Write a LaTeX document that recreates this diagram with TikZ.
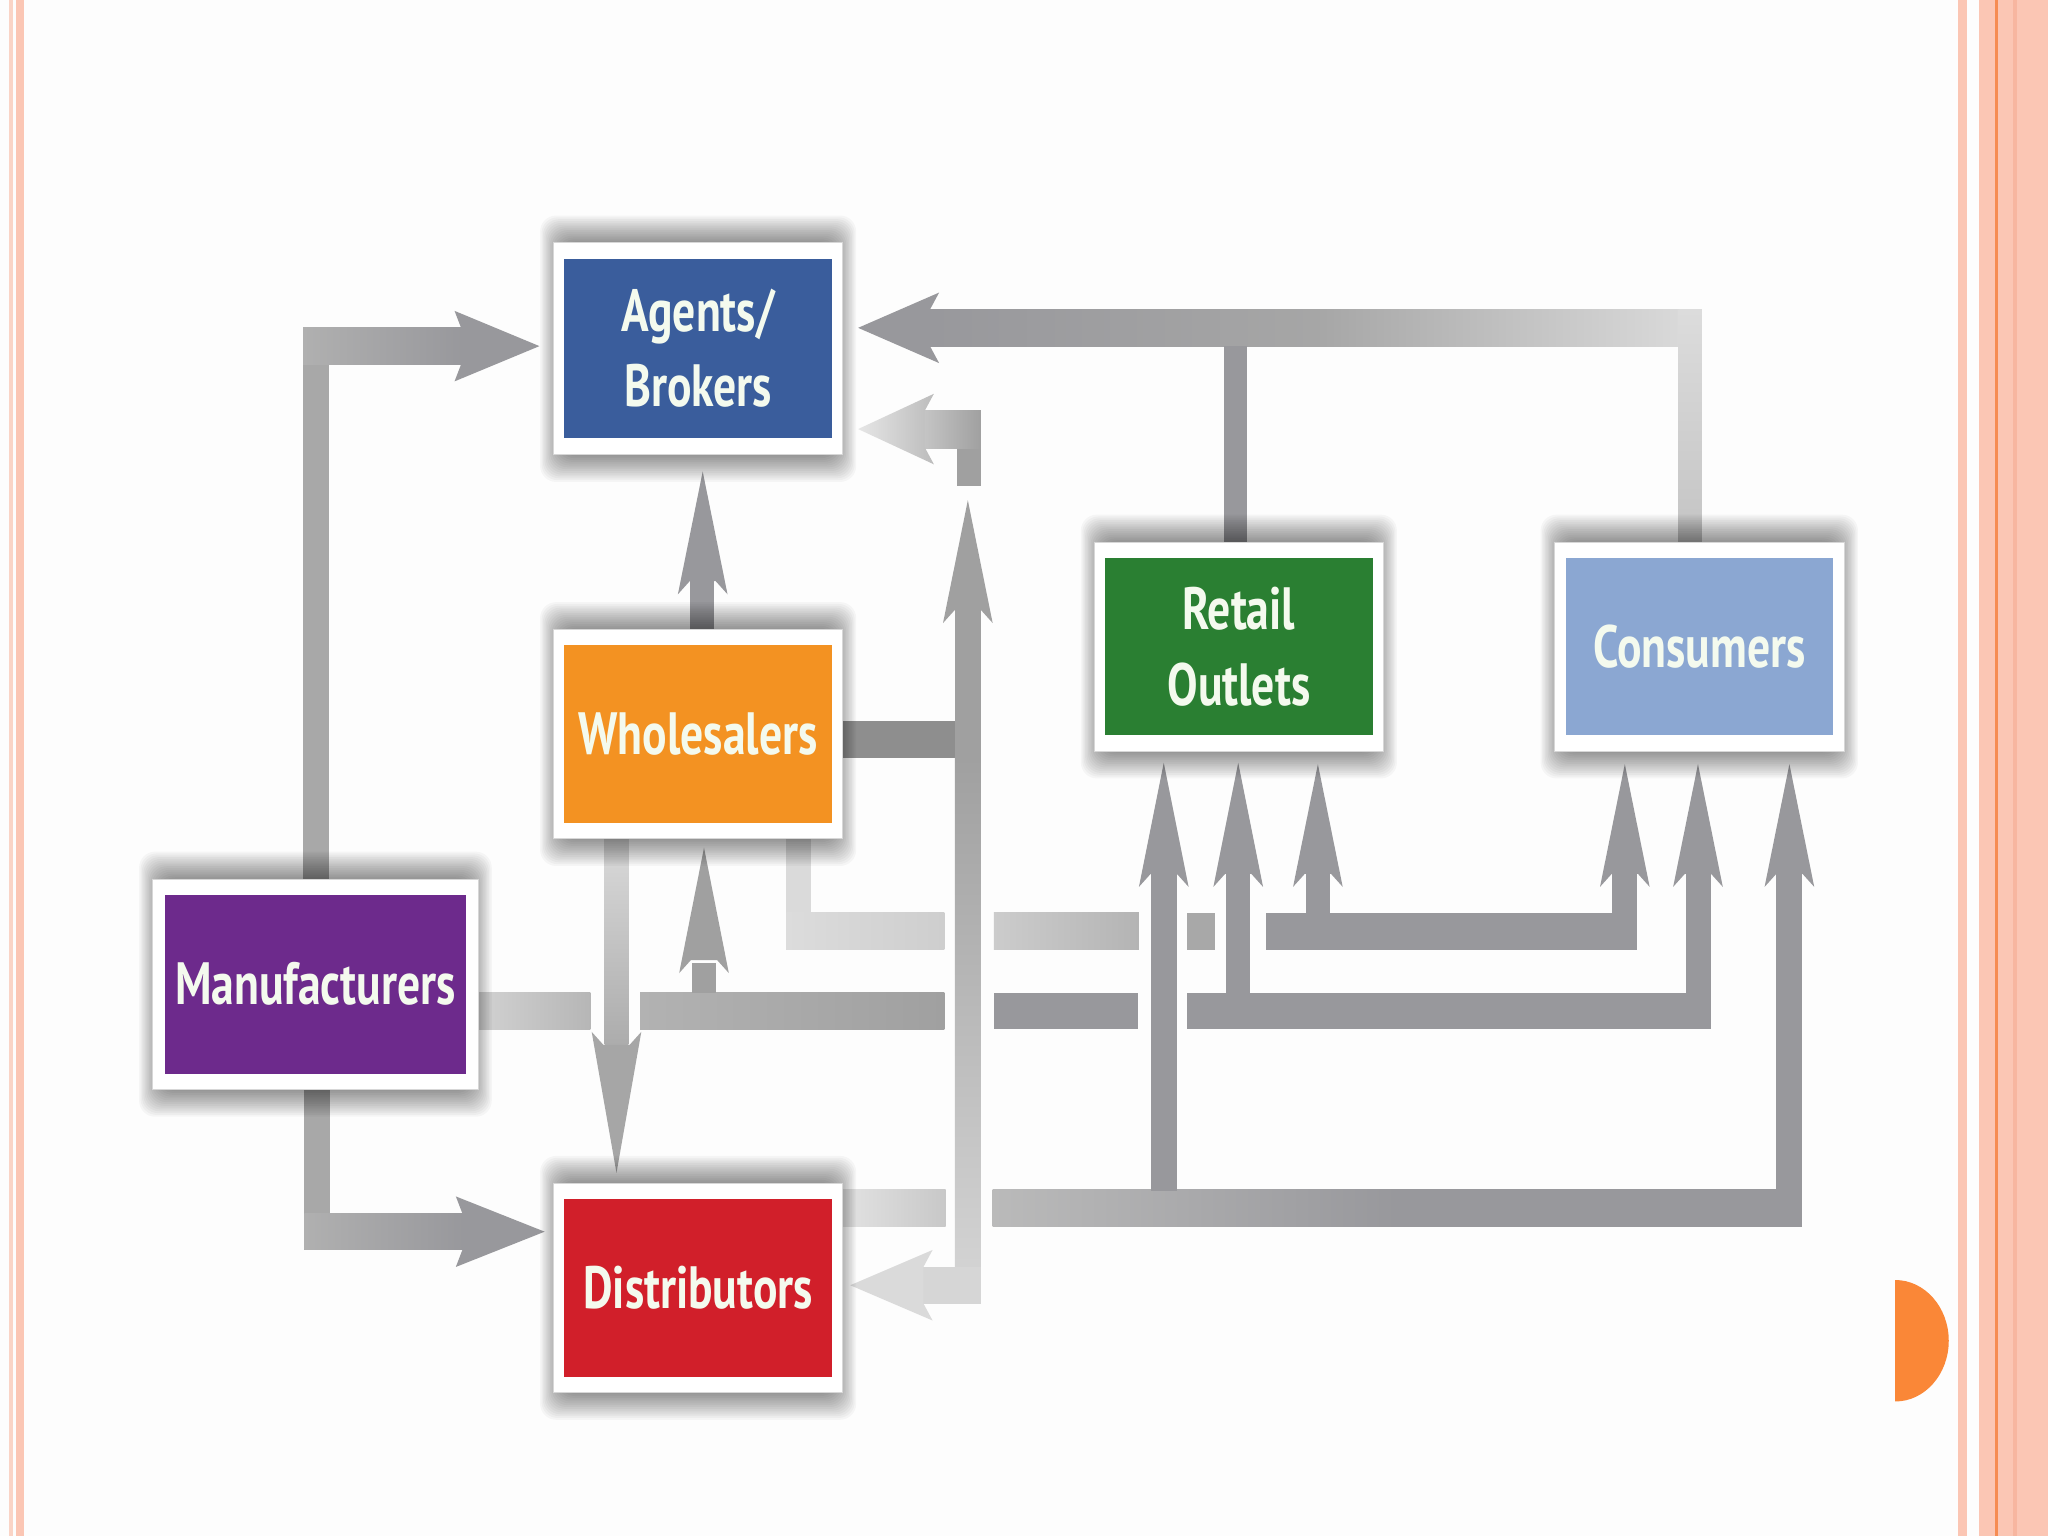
\documentclass[tikz,border=0pt]{standalone}
\usepackage{fontspec}
\newfontfamily\boxfont[FakeStretch=0.765]{PT Sans}
\definecolor{bgc}{RGB}{253,253,253}
\definecolor{gd}{RGB}{152,152,156}
\newcommand\defgray[1]{\definecolor{g#1}{RGB}{#1,#1,#1}}
\defgray{142}\defgray{160}\defgray{166}\defgray{168}\defgray{172}\defgray{176}
\defgray{178}\defgray{180}\defgray{182}\defgray{186}\defgray{188}\defgray{196}
\defgray{200}\defgray{204}\defgray{206}\defgray{210}\defgray{214}\defgray{218}
\defgray{220}\defgray{226}\defgray{230}
\definecolor{agentblue}{RGB}{58,93,156}
\definecolor{wholeorange}{RGB}{243,146,34}
\definecolor{manpurple}{RGB}{109,42,140}
\definecolor{distred}{RGB}{209,31,42}
\definecolor{retailgreen}{RGB}{42,127,50}
\definecolor{consblue}{RGB}{139,167,210}
\definecolor{salmon}{RGB}{251,198,180}
\definecolor{salmonl}{RGB}{250,212,198}
\definecolor{salmond}{RGB}{247,182,160}
\definecolor{orangeline}{RGB}{246,140,82}
\definecolor{dotorange}{RGB}{250,135,55}
\definecolor{framegray}{RGB}{215,215,215}
\definecolor{txt}{RGB}{244,250,238}
\def\pxu{0.02cm}
\tikzset{
  frame/.style={draw=framegray, line width=0.4pt, fill=white, inner sep=0pt, outer sep=0pt},
  inbox/.style={inner sep=0pt, outer sep=0pt, text=txt, align=center,
    font=\boxfont\bfseries\fontsize{26}{33}\selectfont},
  shadowlayer/.style={fill=black, opacity=0.03, rounded corners=7pt},
}
% soft shadow around a box: x1 y1 x2 y2 (y grows downward)
\newcommand\boxshadow[4]{%
  \foreach \k in {1,...,15}{%
    \path[shadowlayer] (#1+6-1.1*\k,#2-1.4*\k) rectangle (#3-6+1.1*\k,#4+1.4*\k);}}
% arrow heads: up / down / left / right
\newcommand\hup[4]{\path[#4] (#1,#2) -- (#1+19,#3) -- (#1+10,#3-10) -- (#1-10,#3-10) -- (#1-19,#3) -- cycle;}
\newcommand\hdown[4]{\path[#4] (#1,#2) -- (#1+19,#3) -- (#1+10,#3+10) -- (#1-10,#3+10) -- (#1-19,#3) -- cycle;}
\newcommand\hleft[4]{\path[#4] (#1,#3) -- (#2,#3-27) -- (#2-7,#3-14) -- (#2-7,#3+14) -- (#2,#3+27) -- cycle;}
\newcommand\hright[4]{\path[#4] (#1,#3) -- (#2,#3-27) -- (#2+5,#3-14) -- (#2+5,#3+14) -- (#2,#3+27) -- cycle;}
\begin{document}
\begin{tikzpicture}[x=0.02cm,y=-0.02cm]
\useasboundingbox (0,0) rectangle (1568,1176);
\fill[bgc] (0,0) rectangle (1568,1176);

% ---------- page decoration ----------
\fill[salmonl] (7,0) rectangle (10,1176);
\fill[salmon] (12,0) rectangle (18,1176);
\fill[salmon] (1499,0) rectangle (1506,1176);
\fill[salmon] (1515,0) rectangle (1568,1176);
\fill[salmond] (1541,0) rectangle (1544,1176);
\fill[orangeline] (1527.5,0) rectangle (1529.5,1176);
\begin{scope}
  \clip (1451,970) rectangle (1500,1085);
  \fill[dotorange] (1451,1026.5) ellipse [x radius=41, y radius=46.5];
\end{scope}

% ---------- connectors ----------
% top band into Agents
\shade[left color=gd, right color=g220, middle color=g166] (712,237) rectangle (1303,265);
\fill[gd] (937,265) rectangle (955,415);
\shade[top color=g220, bottom color=g196] (1285,237) rectangle (1303,415);
\hleft{657}{719}{251}{fill=gd}

% L arrow into Agents (lower)
\fill[g160] (733,314) rectangle (751,372);
\shade[left color=g196, right color=g160] (708,314) rectangle (751,343);
\hleft{657}{715}{328.5}{left color=g230, right color=g188}

% Wholesalers -> Agents
\fill[gd] (528,445) rectangle (547,482);
\hup{538}{361}{455}{fill=gd}

% Manufacturers -> Agents
\fill[g168] (232,251) rectangle (252,673);
\shade[left color=g176, right color=gd] (232,251) rectangle (354,279);
\hright{413}{348}{265}{fill=gd}

% Manufacturers -> Distributors
\fill[g168] (233,833) rectangle (253,957);
\shade[left color=g176, right color=gd] (233,929) rectangle (355,957);
\hright{417}{349}{943}{fill=gd}

% Manufacturers band
\shade[left color=g210, right color=g182] (365,760) rectangle (452,788);
\shade[left color=g178, right color=g160] (490,760) rectangle (723,788);
\fill[gd] (761,760) rectangle (871,788);
\fill[gd] (909,760) rectangle (1310,788);
\fill[gd] (1291,669) rectangle (1310,788);
\hup{1300}{585}{679}{fill=gd}
\fill[gd] (939,669) rectangle (957,760);
\hup{948}{584}{679}{fill=gd}
% Manufacturers -> Wholesalers
\fill[g160] (530,737) rectangle (548,760);
\hup{539}{649}{745}{fill=g160}

% Wholesalers lower band
\fill[g218] (602,642) rectangle (621,727);
\shade[left color=g220, right color=g206] (602,699) rectangle (723,727);
\shade[left color=g204, right color=g180] (761,699) rectangle (872,727);
\fill[g168] (909,699) rectangle (930,727);
\fill[gd] (969,699) rectangle (1253,727);
\fill[gd] (1234,669) rectangle (1253,727);
\hup{1244}{585}{679}{fill=gd}
\fill[gd] (1000,669) rectangle (1018,699);
\hup{1009}{585}{679}{fill=gd}

% Distributors band
\shade[left color=g226, right color=g200] (645,911) rectangle (724,939);
\shade[left color=g186, right color=gd, middle color=gd] (760,911) rectangle (1378,939);
\fill[gd] (1360,669) rectangle (1380,939.5);
\hup{1370}{585}{679}{fill=gd}
\fill[gd] (881,669) rectangle (901,911.5);
\hup{891}{584}{679}{fill=gd}

% Wholesalers -> Distributors
\shade[top color=g218, bottom color=g172] (463,642) rectangle (481,800);
\hdown{472}{898}{790}{fill=g166}

% Wholesalers right band and vertical
\fill[g142] (645,552) rectangle (741,580);
\fill[g160] (731,467) rectangle (751,580);
\hup{741}{383}{477}{fill=g160}
\shade[top color=g160, bottom color=g214] (731,580) rectangle (751,998);
\fill[g214] (707,970) rectangle (751,998);
\hleft{651}{714}{984}{fill=g218}

% ---------- shadows ----------
\boxshadow{424}{186}{645}{348}
\boxshadow{424}{482}{645}{642}
\boxshadow{117}{673}{366}{834}
\boxshadow{424}{906}{645}{1066}
\boxshadow{838}{415}{1059}{575}
\boxshadow{1190}{415}{1412}{575}

% ---------- boxes ----------
\node[frame, minimum width=221*\pxu, minimum height=162*\pxu] (agentsF) at (534.5,267) {};
\node[inbox, fill=agentblue, minimum width=205*\pxu, minimum height=137*\pxu] (agents) at (534.5,266.5) {Agents/\\Brokers};

\node[frame, minimum width=221*\pxu, minimum height=160*\pxu] (wholeF) at (534.5,562) {};
\node[inbox, fill=wholeorange, minimum width=205*\pxu, minimum height=136*\pxu] (whole) at (534.5,562) {Wholesalers};

\node[frame, minimum width=249*\pxu, minimum height=161*\pxu] (manF) at (241.5,753.5) {};
\node[inbox, fill=manpurple, minimum width=231*\pxu, minimum height=137*\pxu] (man) at (241.5,753.5) {Manufacturers};

\node[frame, minimum width=221*\pxu, minimum height=160*\pxu] (distF) at (534.5,986) {};
\node[inbox, fill=distred, minimum width=205*\pxu, minimum height=136*\pxu] (dist) at (534.5,986) {Distributors};

\node[frame, minimum width=221*\pxu, minimum height=160*\pxu] (retailF) at (948.5,495) {};
\node[inbox, fill=retailgreen, minimum width=205*\pxu, minimum height=136*\pxu] (retail) at (948.5,495) {Retail\\Outlets};

\node[frame, minimum width=222*\pxu, minimum height=160*\pxu] (consF) at (1301,495) {};
\node[inbox, fill=consblue, minimum width=204*\pxu, minimum height=136*\pxu] (cons) at (1301,495) {Consumers};
\end{tikzpicture}
\end{document}
